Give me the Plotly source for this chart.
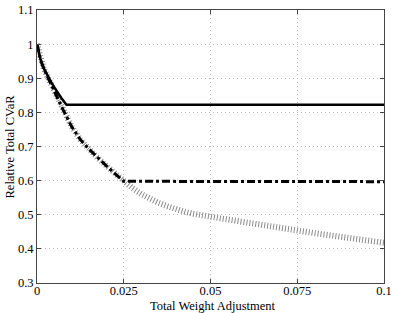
import plotly.graph_objects as go

# Data
solid_x = [0, 0.001, 0.002, 0.003, 0.004, 0.005, 0.006, 0.007, 0.0085, 0.1]
solid_y = [1.0, 0.955, 0.928, 0.908, 0.89, 0.873, 0.857, 0.842, 0.822, 0.822]

shared_x = [0, 0.001, 0.002, 0.003, 0.004, 0.005, 0.0075, 0.01, 0.0125, 0.015,
            0.0175, 0.02, 0.0225, 0.025]
shared_y = [1.0, 0.955, 0.927, 0.905, 0.885, 0.862, 0.808, 0.758, 0.72, 0.692,
            0.666, 0.643, 0.62, 0.598]

dashdot_x = shared_x + [0.1]
dashdot_y = shared_y + [0.597]

gray_x = shared_x + [0.0275, 0.03, 0.0325, 0.035, 0.0375, 0.04, 0.0425, 0.045,
                     0.0475, 0.05, 0.055, 0.06, 0.065, 0.07, 0.075, 0.08, 0.085,
                     0.09, 0.095, 0.1]
gray_y = shared_y + [0.578, 0.561, 0.547, 0.535, 0.525, 0.516, 0.509, 0.503,
                     0.498, 0.494, 0.486, 0.478, 0.469, 0.461, 0.453, 0.446,
                     0.439, 0.432, 0.425, 0.418]

x_ticks = [0, 0.025, 0.05, 0.075, 0.1]
x_tick_text = ["0", "0.025", "0.05", "0.075", "0.1"]
y_ticks = [0.3, 0.4, 0.5, 0.6, 0.7, 0.8, 0.9, 1.0, 1.1]
y_tick_text = ["0.3", "0.4", "0.5", "0.6", "0.7", "0.8", "0.9", "1", "1.1"]

x_title = "Total Weight Adjustment"
y_title = "Relative Total CVaR"

fig = go.Figure()
fig.add_trace(go.Scatter(x=gray_x, y=gray_y, mode="lines", hoverinfo="skip",
                         line=dict(color="#8a8a8a", width=6, dash="1px,2px")))
fig.add_trace(go.Scatter(x=dashdot_x, y=dashdot_y, mode="lines", hoverinfo="skip",
                         line=dict(color="black", width=3, dash="8px,3px,3px,3px")))
fig.add_trace(go.Scatter(x=solid_x, y=solid_y, mode="lines", hoverinfo="skip",
                         line=dict(color="black", width=2.5)))

font = dict(family="Liberation Serif", size=12.5, color="black")
axis_common = dict(
    showline=True, linecolor="#444", linewidth=1, mirror="ticks",
    ticks="inside", ticklen=4, tickcolor="#444",
    showgrid=True, gridcolor="#bdbdbd", griddash="1px,3px", gridwidth=1,
    zeroline=False, tickfont=font, automargin=False,
)
fig.update_xaxes(range=[0, 0.1], tickvals=x_ticks, ticktext=x_tick_text,
                 ticklabelstandoff=-4, **axis_common)
fig.update_yaxes(range=[0.3, 1.1], tickvals=y_ticks, ticktext=y_tick_text, **axis_common)

fig.add_annotation(text=x_title, xref="paper", yref="paper", x=0.5, y=0,
                   xanchor="center", yanchor="top", yshift=-14, xshift=2,
                   showarrow=False, font=font)
fig.add_annotation(text=y_title, xref="paper", yref="paper", x=0, y=0.5,
                   xanchor="center", yanchor="middle", xshift=-28, textangle=-90,
                   showarrow=False, font=font)

fig.update_layout(
    width=395, height=313,
    margin=dict(l=37, r=11, t=10, b=30),
    paper_bgcolor="white", plot_bgcolor="white",
    showlegend=False, font=font,
)
fig.write_html("out.html", config={"displayModeBar": False},
               post_script="document.body.style.margin='0';document.body.style.overflow='hidden';")
